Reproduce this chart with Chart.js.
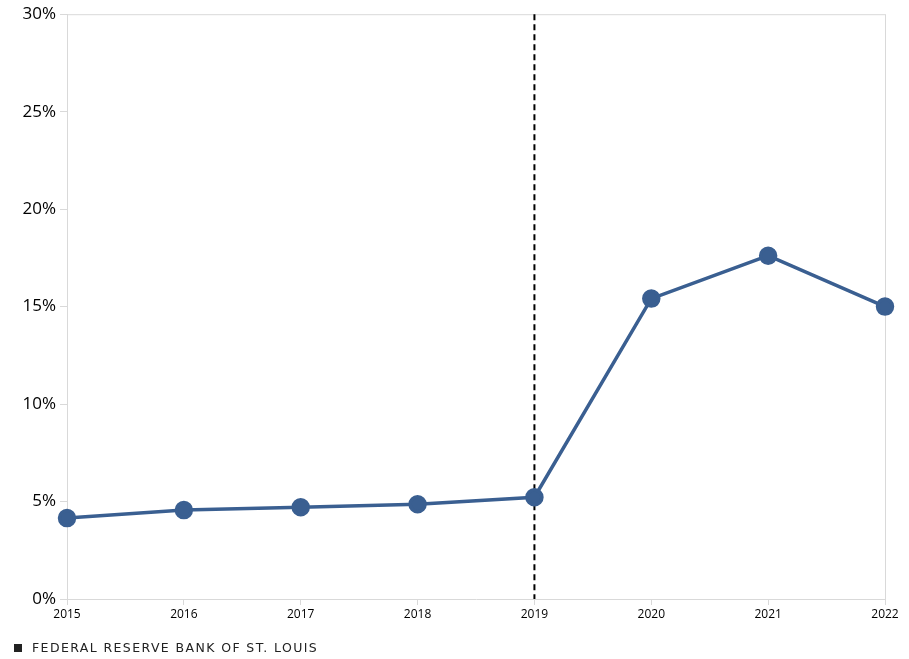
<!DOCTYPE html>
<html><head><meta charset="utf-8">
<script src="https://cdn.jsdelivr.net/npm/chart.js@4"></script>
<style>html,body{margin:0;padding:0;background:#fff}#w{width:909px;height:659px;position:relative}</style>
</head><body><div id="w"><canvas id="c"></canvas></div>
<script>
const years = ['2015','2016','2017','2018','2019','2020','2021','2022'];
const values = [4.15, 4.56, 4.71, 4.86, 5.22, 15.41, 17.61, 15.0];
const yTicks = [0,5,10,15,20,25,30];
const markerYear = '2019';

const extras = {
  id:'extras',
  beforeDatasetsDraw(chart){
    const {ctx, chartArea:a, scales:{x}} = chart;
    ctx.save();
    ctx.strokeStyle='#d9d9d9'; ctx.lineWidth=1;
    ctx.beginPath();
    ctx.moveTo(a.left,a.top+0.5); ctx.lineTo(a.right,a.top+0.5);
    ctx.moveTo(a.right+0.5,a.top); ctx.lineTo(a.right+0.5,a.bottom);
    ctx.stroke();
    const px = x.getPixelForValue(years.indexOf(markerYear));
    ctx.strokeStyle='#000'; ctx.lineWidth=2; ctx.setLineDash([6,4]);
    ctx.beginPath(); ctx.moveTo(px,a.top); ctx.lineTo(px,a.bottom); ctx.stroke();
    ctx.restore();
  },
  afterDraw(chart){
    const ctx = chart.ctx;
    ctx.save();
    ctx.fillStyle='#222'; ctx.fillRect(14,644,8,8);
    ctx.font='12.5px "DejaVu Sans"'; ctx.textBaseline='middle';
    if (ctx.letterSpacing!==undefined) ctx.letterSpacing='1.4px';
    ctx.fillText('FEDERAL RESERVE BANK OF ST. LOUIS',32,649);
    ctx.restore();
  }
};

new Chart(document.getElementById('c'),{
  type:'line',
  data:{labels:years,datasets:[{data:values,borderColor:'#3a5f91',backgroundColor:'#3a5f91',borderWidth:3.5,pointRadius:7.5,pointHoverRadius:7.5,tension:0}]},
  options:{
    responsive:true,maintainAspectRatio:false,animation:false,
    layout:{padding:{left:0,right:24,top:13,bottom:39}},
    plugins:{legend:{display:false},tooltip:{enabled:false}},
    scales:{
      x:{offset:false,grid:{drawOnChartArea:false,color:'#d9d9d9',tickLength:6},border:{color:'#d9d9d9'},
        ticks:{color:'#000',font:{family:'"Open Sans"',size:12},maxRotation:0,padding:2},
        afterFit(s){s.height=21;}},
      y:{min:0,max:30,grid:{drawOnChartArea:false,color:'#d9d9d9',tickLength:7},border:{color:'#d9d9d9'},
        afterBuildTicks(s){s.ticks=yTicks.map(v=>({value:v}));},
        ticks:{color:'#000',font:{family:'"Open Sans"',size:17},padding:4,callback:v=>v+'%'},
        afterFit(s){s.width=67;}}
    }
  },
  plugins:[extras]
});
</script></body></html>
